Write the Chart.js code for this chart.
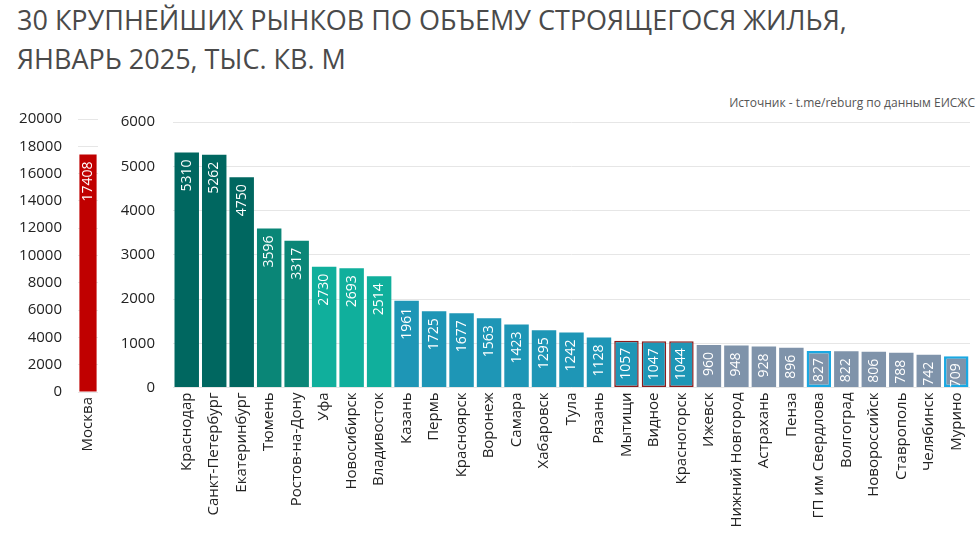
<!DOCTYPE html>
<html><head><meta charset="utf-8">
<script src="https://cdn.jsdelivr.net/npm/chart.js@4.4.1/dist/chart.umd.min.js"></script>
<style>
html,body{margin:0;padding:0;background:#fff;}
body{width:980px;height:540px;position:relative;overflow:hidden;font-family:"Open Sans",sans-serif;}
#title{position:absolute;left:17px;top:0px;font-size:27px;line-height:39px;color:#4a4a4a;white-space:nowrap;}
#src{position:absolute;right:5px;top:94px;font-size:12px;color:#555;white-space:nowrap;}
#c1{position:absolute;left:0;top:0;}
#c2{position:absolute;left:110px;top:0;}
</style></head><body>
<div id="title">30 КРУПНЕЙШИХ РЫНКОВ ПО ОБЪЕМУ СТРОЯЩЕГОСЯ ЖИЛЬЯ,<br>ЯНВАРЬ 2025, ТЫС. КВ. М</div>
<div id="src">Источник - t.me/reburg по данным ЕИСЖС</div>
<canvas id="c1" width="115" height="540"></canvas>
<canvas id="c2" width="870" height="540"></canvas>
<script>
const mainCategories = ["Москва"];
const mainValues = [17408];
const leftTicks = [0,2000,4000,6000,8000,10000,12000,14000,16000,18000,20000];

const categories = ["Краснодар","Санкт-Петербург","Екатеринбург","Тюмень","Ростов-на-Дону","Уфа","Новосибирск","Владивосток","Казань","Пермь","Красноярск","Воронеж","Самара","Хабаровск","Тула","Рязань","Мытищи","Видное","Красногорск","Ижевск","Нижний Новгород","Астрахань","Пенза","ГП им Свердлова","Волгоград","Новороссийск","Ставрополь","Челябинск","Мурино"];
const values = [5310,5262,4750,3596,3317,2730,2693,2514,1961,1725,1677,1563,1423,1295,1242,1128,1057,1047,1044,960,948,928,896,827,822,806,788,742,709];
const rightTicks = [0,1000,2000,3000,4000,5000,6000];
// colour group per bar: 0 dark teal, 1 mid teal, 2 light teal, 3 blue, 4 grey
const groups = [0,0,0,1,1,2,2,2,3,3,3,3,3,3,3,3,3,3,3,4,4,4,4,4,4,4,4,4,4];
// highlight per bar: 0 none, 1 red outline, 2 blue outline
const highlight = [0,0,0,0,0,0,0,0,0,0,0,0,0,0,0,0,1,1,1,0,0,0,0,2,0,0,0,0,2];

const palette = ["#006760","#0a8677","#10af9c","#1e96b6","#7f93aa"];
const outline = ["rgba(0,0,0,0)","#8e1b1b","#1aa8e2"];
const outlineW = [0,1.5,2.5];

const FONT = "'Open Sans', sans-serif";

const valueLabels = {
  id:'valueLabels',
  afterDatasetsDraw(chart){
    const ctx = chart.ctx;
    const meta = chart.getDatasetMeta(0);
    const data = chart.data.datasets[0].data;
    ctx.save();
    ctx.fillStyle = '#ffffff';
    ctx.font = "14px " + FONT;
    ctx.textAlign = 'right';
    ctx.textBaseline = 'middle';
    meta.data.forEach((bar,i)=>{
      ctx.save();
      ctx.translate(bar.x, bar.y + 7);
      ctx.rotate(-Math.PI/2);
      ctx.fillText(String(data[i]), 0, 0);
      ctx.restore();
    });
    ctx.restore();
  }
};

function makeChart(id, labels, data, colors, borders, bw, max, step, opts){
  return new Chart(document.getElementById(id), {
    type:'bar',
    data:{labels:labels, datasets:[{data:data, backgroundColor:colors, borderColor:borders, borderWidth:bw, borderSkipped:false, categoryPercentage:1, barPercentage:opts.bp}]},
    options:{
      responsive:false, animation:false,
      layout:{padding:{top:opts.top,right:opts.right,left:0,bottom:0}},
      plugins:{legend:{display:false},tooltip:{enabled:false}},
      scales:{
        x:{
          grid:{display:false,drawTicks:false},
          border:{display:false},
          ticks:{minRotation:90,maxRotation:90,autoSkip:false,padding:5,color:'#222',font:{family:FONT,size:15}},
          afterFit(s){ s.height = opts.xh; }
        },
        y:{
          min:0,max:max,
          grid:{color:'#e6e6e6',drawTicks:false,lineWidth:1},
          border:{display:false},
          ticks:{stepSize:step,padding:opts.tp,color:'#222',font:{family:FONT,size:15},callback:(v)=>String(v)},
          afterFit(s){ s.width = opts.yw; }
        }
      }
    },
    plugins:[valueLabels]
  });
}

makeChart('c1', mainCategories, mainValues, ["#c00000"], ["rgba(0,0,0,0)"], 0, leftTicks[leftTicks.length-1], leftTicks[1]-leftTicks[0],
  {top:119,right:8,xh:148,yw:78,tp:16,bp:0.86});
makeChart('c2', categories, values, groups.map(g=>palette[g]), highlight.map(h=>outline[h]), highlight.map(h=>outlineW[h]), rightTicks[rightTicks.length-1], rightTicks[1]-rightTicks[0],
  {top:122,right:10,xh:152.5,yw:63,tp:18,bp:0.89});
</script>
</body></html>
